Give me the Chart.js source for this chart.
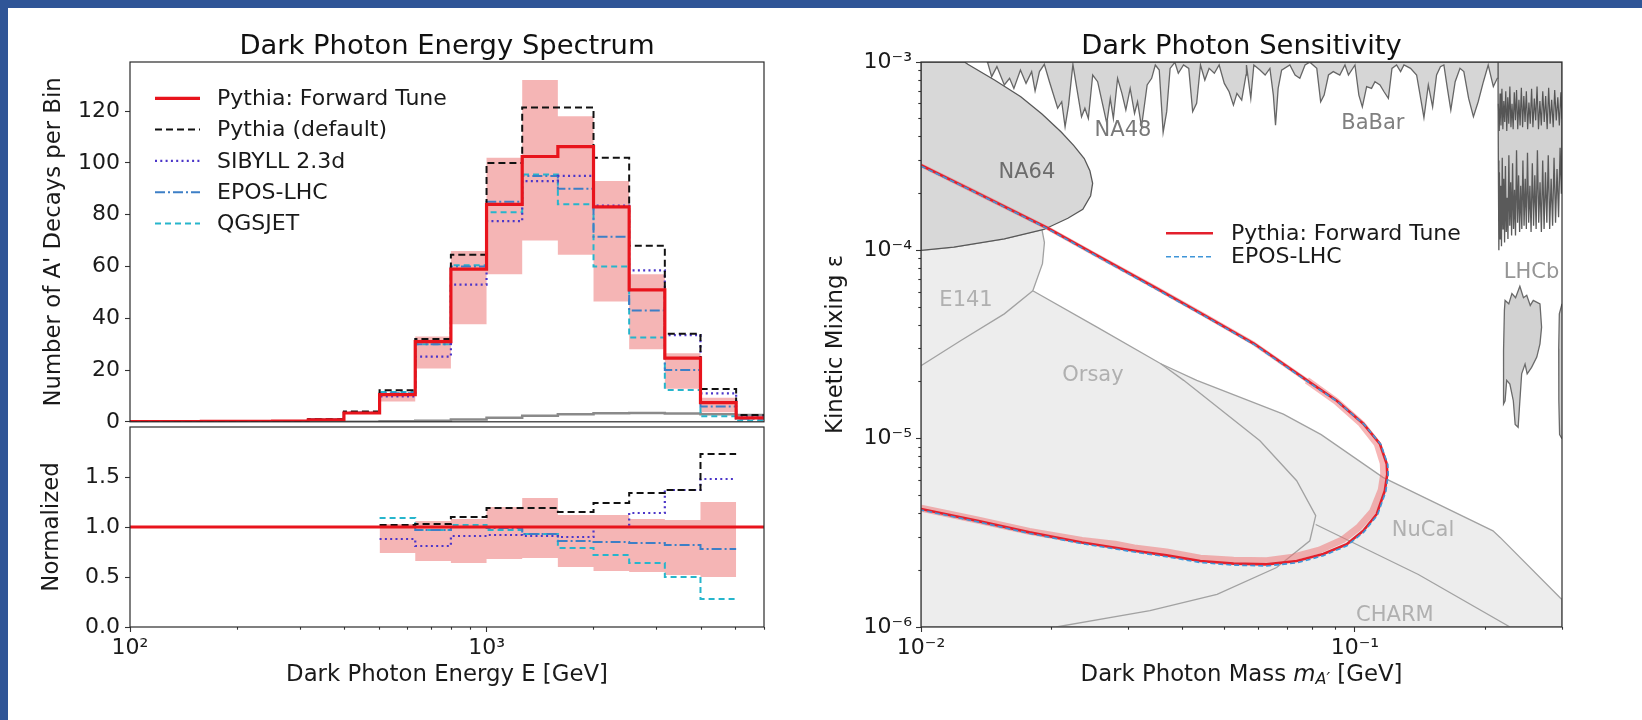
<!DOCTYPE html>
<html>
<head>
<meta charset="utf-8">
<script src="https://cdn.jsdelivr.net/npm/chart.js@4.4.1/dist/chart.umd.min.js"></script>
<style>
  html, body { margin: 0; padding: 0; background: #fff; }
  #page { position: relative; width: 1642px; height: 720px; overflow: hidden; background: #fff; }
  .edge { position: absolute; background: #2f5597; }
  canvas { position: absolute; }
</style>
</head>
<body>
<div id="page">
  <div class="edge" style="left:0;top:0;width:1642px;height:8px"></div>
  <div class="edge" style="left:0;top:0;width:8px;height:720px"></div>
  <canvas id="spec" style="left:0;top:0" width="800" height="440"></canvas>
  <canvas id="ratio" style="left:0;top:400px" width="800" height="320"></canvas>
  <canvas id="sens" style="left:820px;top:0" width="822" height="720"></canvas>
</div>
<script>
// ---------- energy spectrum: bins 0.1 decade wide, 10^2 .. 10^3.8 GeV ----------
const binEdges = [100, 125.9, 158.5, 199.5, 251.2, 316.2, 398.1, 501.2, 631.0, 794.3,
                  1000, 1258.9, 1584.9, 1995.3, 2511.9, 3162.3, 3981.1, 5011.9, 6309.6];

const fwdTune   = [0.1, 0.1, 0.15, 0.2, 0.3, 0.8, 3.4, 10.5, 31, 59, 84, 102.5, 106.3, 83, 51, 24.6, 7.4, 1.5];
const pyDefault = [0.1, 0.1, 0.15, 0.2, 0.35, 1.0, 4.0, 12.2, 32, 64.5, 100, 121.4, 121.4, 102, 68, 34, 12.7, 2.6];
const sibyll    = [0.1, 0.1, 0.1, 0.15, 0.3, 0.8, 3.5, 9.8, 25.2, 53, 77.5, 93, 95, 83.5, 58.5, 33.5, 11, 2];
const eposLhc   = [0.1, 0.1, 0.15, 0.2, 0.3, 0.9, 3.6, 11, 30, 60, 85, 95, 90, 71.5, 43, 20, 5.9, 1.2];
const qgsjet    = [0.1, 0.1, 0.15, 0.2, 0.3, 0.9, 3.5, 11.5, 30, 60.5, 81, 95.5, 84, 60, 32.6, 12.3, 2.1, 0.5];
const greyHist  = [0, 0, 0, 0, 0, 0, 0, 0.2, 0.4, 0.9, 1.6, 2.3, 2.9, 3.3, 3.4, 3.2, 2.9, 2.6];

// forward tune uncertainty band, bins 10^2.7 .. 10^3.7
const bandFirstBin = 7;
const bandUp = [10.9, 33, 66, 102, 132, 118, 93, 57, 26.5, 9.3];
const bandLo = [7.8, 20.6, 37.7, 57, 70, 64.5, 46.5, 28, 12.8, 3.7];

// ratio panel, same bins 10^2.7 .. 10^3.7
const ratioDefault = [1.02, 1.03, 1.10, 1.19, 1.19, 1.15, 1.24, 1.34, 1.37, 1.73];
const ratioSibyll  = [0.88, 0.81, 0.91, 0.92, 0.91, 0.90, 1.00, 1.14, 1.37, 1.48];
const ratioEpos    = [1.00, 0.97, 1.00, 0.99, 0.93, 0.86, 0.85, 0.84, 0.82, 0.78];
const ratioQgsjet  = [1.09, 0.97, 1.02, 0.97, 0.93, 0.79, 0.72, 0.64, 0.50, 0.28];
const ratioBandUp  = [1.03, 1.06, 1.08, 1.20, 1.29, 1.12, 1.12, 1.08, 1.07, 1.25];
const ratioBandLo  = [0.74, 0.66, 0.64, 0.68, 0.69, 0.60, 0.56, 0.55, 0.52, 0.50];

// ---------- sensitivity plot: [mass GeV, epsilon] ----------
const fwdReach = [[0.01,2.83e-4],[0.013,2.1e-4],[0.0196,1.31e-4],[0.025,9.6e-5],[0.0345,6.38e-5],[0.045,4.52e-5],
  [0.0586,3.19e-5],[0.0775,2.04e-5],[0.0908,1.59e-5],[0.1045,1.2e-5],[0.1142,9.37e-6],[0.1184,7.33e-6],
  [0.1187,6.48e-6],[0.1172,5.29e-6],[0.1122,3.97e-6],[0.1045,3.24e-6],[0.0957,2.75e-6],[0.0845,2.44e-6],
  [0.0734,2.24e-6],[0.0626,2.15e-6],[0.0525,2.17e-6],[0.044,2.24e-6],[0.0368,2.4e-6],[0.031,2.54e-6],
  [0.0235,2.81e-6],[0.01778,3.18e-6],[0.01349,3.66e-6],[0.01,4.23e-6]];
const fwdReachBand = [[0.01,2.83e-4],[0.013,2.1e-4],[0.0196,1.31e-4],[0.025,9.6e-5],[0.0345,6.38e-5],[0.045,4.52e-5],
  [0.0586,3.19e-5],[0.0775,2.04e-5],[0.0905,1.58e-5],[0.1035,1.2e-5],[0.1125,9.4e-6],[0.1162,7.4e-6],
  [0.1165,6.5e-6],[0.115,5.35e-6],[0.1098,4.1e-6],[0.102,3.38e-6],[0.0935,2.9e-6],[0.0828,2.56e-6],
  [0.072,2.35e-6],[0.0626,2.25e-6],[0.0525,2.26e-6],[0.044,2.32e-6],[0.0368,2.5e-6],[0.031,2.63e-6],
  [0.028,2.75e-6],[0.0235,2.88e-6],[0.01778,3.22e-6],[0.01349,3.7e-6],[0.01,4.27e-6]];
const eposReach = [[0.01,2.8e-4],[0.013,2.09e-4],[0.0196,1.3e-4],[0.025,9.5e-5],[0.0345,6.3e-5],[0.045,4.48e-5],
  [0.0586,3.16e-5],[0.0775,2.02e-5],[0.0912,1.57e-5],[0.105,1.19e-5],[0.1148,9.3e-6],[0.119,7.3e-6],
  [0.1193,6.45e-6],[0.1178,5.25e-6],[0.1127,3.93e-6],[0.1048,3.19e-6],[0.0958,2.7e-6],[0.0845,2.39e-6],
  [0.0734,2.19e-6],[0.0626,2.11e-6],[0.0525,2.13e-6],[0.044,2.2e-6],[0.0368,2.36e-6],[0.031,2.5e-6],
  [0.0235,2.77e-6],[0.01778,3.14e-6],[0.01349,3.62e-6],[0.01,4.18e-6]];

// beam dump exclusion (E141 + Orsay + NuCal + CHARM), outer edge
const dumpRegion = [[0.01,1e-6],[0.01,1.0e-4],[0.0119,1.04e-4],[0.01556,1.15e-4],[0.019,1.29e-4],[0.01925,1.1e-4],
  [0.01905,8.5e-5],[0.0181,6.1e-5],[0.0255,3.9e-5],[0.0357,2.5e-5],[0.0432,2.04e-5],[0.0684,1.35e-5],
  [0.0836,1.05e-5],[0.116,6.23e-6],[0.208,3.24e-6],[0.216,2.99e-6],[0.297,1.43e-6],[0.3,1.4e-6],[0.3,1e-6],[0.01,1e-6]];
const e141Edge  = [[0.01,2.44e-5],[0.01236,3.32e-5],[0.01556,4.6e-5],[0.0181,6.1e-5]];
const orsayEdge = [[0.0357,2.5e-5],[0.0403,2.04e-5],[0.0604,9.75e-6],[0.0734,5.98e-6],[0.0812,3.9e-6],
  [0.0787,2.87e-6],[0.066,2.07e-6],[0.0481,1.49e-6],[0.0337,1.22e-6],[0.0205,1e-6]];
const charmEdge = [[0.0812,3.5e-6],[0.14,1.9e-6],[0.2277,1e-6]];

const na64Region = [[0.01,1e-3],[0.01,1e-4],[0.0119,1.04e-4],[0.01556,1.15e-4],[0.0192,1.29e-4],[0.0218,1.48e-4],
  [0.0236,1.65e-4],[0.0246,1.95e-4],[0.02486,2.27e-4],[0.0245,2.65e-4],[0.02378,3.07e-4],[0.0225,3.6e-4],
  [0.02104,4.25e-4],[0.019,5.3e-4],[0.01698,6.54e-4],[0.0148,8.0e-4],[0.01282,9.72e-4],[0.0126,1e-3],[0.01,1e-3]];

const babarRegion = [[0.0142,1e-3],[0.01426,9.84e-4],[0.01455,8.36e-4],[0.01496,9.45e-4],[0.01556,7.55e-4],[0.016,8.19e-4],
  [0.01637,7.24e-4],[0.01695,9.06e-4],[0.01746,7.7e-4],[0.01799,8.89e-4],[0.01832,7.01e-4],[0.01875,8.89e-4],
  [0.01924,9.72e-4],[0.01977,7.86e-4],[0.02065,5.68e-4],[0.0211,6.15e-4],[0.02148,4.53e-4],[0.02188,5.9e-4],
  [0.02239,9.72e-4],[0.02286,7.24e-4],[0.02344,5.12e-4],[0.02386,5.68e-4],[0.0243,5.01e-4],[0.02487,8.53e-4],
  [0.02553,7.86e-4],[0.02624,5.9e-4],[0.0268,4.72e-4],[0.0273,6.41e-4],[0.02775,5.01e-4],[0.02838,8.19e-4],
  [0.02904,6.81e-4],[0.02965,5.56e-4],[0.03034,7.24e-4],[0.03105,5.33e-4],[0.03155,6.15e-4],[0.03222,4.53e-4],
  [0.0332,7.55e-4],[0.034,8.19e-4],[0.03467,9.64e-4],[0.0354,9.06e-4],[0.03614,4.23e-4],[0.03683,5.45e-4],
  [0.0375,9.25e-4],[0.03846,9.96e-4],[0.03917,8.71e-4],[0.04027,9.64e-4],[0.0414,9.25e-4],[0.04227,5.45e-4],
  [0.04317,6.03e-4],[0.04406,9.64e-4],[0.04509,8.02e-4],[0.04613,9.25e-4],[0.04742,8.71e-4],[0.04864,9.64e-4],
  [0.05,7.7e-4],[0.05129,6.95e-4],[0.05248,5.9e-4],[0.05346,6.81e-4],[0.05483,6.28e-4],[0.0561,8.53e-4],
  [0.05623,9.64e-4],[0.05754,6.41e-4],[0.05848,9.64e-4],[0.0604,9.06e-4],[0.06209,8.53e-4],[0.06368,9.25e-4],
  [0.06486,6.67e-4],[0.06561,4.62e-4],[0.06653,7.24e-4],[0.06776,9.06e-4],[0.07079,9.64e-4],[0.07278,8.53e-4],
  [0.07464,8.19e-4],[0.07674,9.64e-4],[0.07871,9.98e-4],[0.08166,9.25e-4],[0.08337,6.15e-4],[0.08492,6.67e-4],
  [0.0869,8.53e-4],[0.08913,8.89e-4],[0.09226,8.53e-4],[0.09484,9.64e-4],[0.09661,8.53e-4],[0.1,9.64e-4],
  [0.1021,6.67e-4],[0.104,5.78e-4],[0.1064,7.4e-4],[0.1092,7.24e-4],[0.1112,7.86e-4],[0.1142,7.55e-4],
  [0.1167,6.95e-4],[0.1194,6.41e-4],[0.1217,9.25e-4],[0.1247,9.64e-4],[0.1274,8.89e-4],[0.1297,9.64e-4],
  [0.1343,9.25e-4],[0.1387,8.53e-4],[0.1413,6.67e-4],[0.1442,5.06e-4],[0.1476,7.55e-4],[0.151,5.78e-4],
  [0.1542,8.53e-4],[0.1574,9.45e-4],[0.1603,9.64e-4],[0.1633,7.24e-4],[0.1663,5.56e-4],[0.1702,7.86e-4],
  [0.1746,9.25e-4],[0.1782,8.89e-4],[0.1828,6.41e-4],[0.1875,5.12e-4],[0.1923,6.15e-4],[0.1977,7.86e-4],
  [0.2028,9.64e-4],[0.2084,7.4e-4],[0.2128,8.19e-4],[0.2136,1e-3],[0.0142,1e-3]];

const lhcbUpper = [[0.2136,1e-3],[0.214,3.0e-4],[0.2146,1.0e-4],[0.2152,2.6e-4],[0.216,1.15e-4],[0.2168,2.2e-4],
  [0.2176,1.05e-4],[0.2185,3.1e-4],[0.2194,1.3e-4],[0.2203,2.4e-4],[0.2212,1.1e-4],[0.2222,2.8e-4],[0.2232,1.25e-4],
  [0.2242,1.9e-4],[0.2252,1.15e-4],[0.2263,3.2e-4],[0.2274,1.35e-4],[0.2285,2.3e-4],[0.2296,1.2e-4],[0.2308,2.9e-4],
  [0.232,1.3e-4],[0.2332,2.1e-4],[0.2344,1.2e-4],[0.2357,3.4e-4],[0.237,1.4e-4],[0.2383,2.5e-4],[0.2396,1.25e-4],
  [0.241,2.2e-4],[0.2424,1.3e-4],[0.2438,3.0e-4],[0.2453,1.35e-4],[0.2468,2.4e-4],[0.2483,1.3e-4],[0.2498,3.3e-4],
  [0.2514,1.4e-4],[0.253,2.2e-4],[0.2546,1.25e-4],[0.2563,2.9e-4],[0.258,1.35e-4],[0.2597,2.5e-4],[0.2615,1.3e-4],
  [0.2633,3.4e-4],[0.2651,1.4e-4],[0.267,2.3e-4],[0.2689,1.25e-4],[0.2708,3.0e-4],[0.2728,1.3e-4],[0.2748,2.6e-4],
  [0.2768,1.4e-4],[0.2789,3.2e-4],[0.281,1.3e-4],[0.2832,2.4e-4],[0.2854,1.35e-4],[0.2876,3.1e-4],[0.2899,1.4e-4],
  [0.2922,2.7e-4],[0.2946,1.5e-4],[0.297,3.5e-4],[0.299,2.0e-4],[0.3,4.0e-4],[0.3,1e-3],[0.2136,1e-3]];
const lhcbBand = [[0.214,6.0e-4],[0.215,4.3e-4],[0.216,6.8e-4],[0.217,4.6e-4],[0.2181,7.2e-4],[0.2192,4.4e-4],
  [0.2203,6.2e-4],[0.2214,4.8e-4],[0.2226,7.0e-4],[0.2238,4.3e-4],[0.225,6.5e-4],[0.2262,4.7e-4],[0.2275,7.4e-4],
  [0.2288,4.5e-4],[0.2301,6.0e-4],[0.2315,4.4e-4],[0.2329,6.9e-4],[0.2343,4.9e-4],[0.2357,7.1e-4],[0.2372,4.4e-4],
  [0.2387,6.3e-4],[0.2402,4.6e-4],[0.2418,7.3e-4],[0.2434,4.5e-4],[0.245,6.6e-4],[0.2466,4.8e-4],[0.2483,7.0e-4],
  [0.25,4.4e-4],[0.2517,6.1e-4],[0.2535,4.7e-4],[0.2553,7.2e-4],[0.2571,4.5e-4],[0.259,6.4e-4],[0.2609,4.9e-4],
  [0.2628,7.4e-4],[0.2648,4.4e-4],[0.2668,6.2e-4],[0.2688,4.6e-4],[0.2709,7.0e-4],[0.273,4.8e-4],[0.2751,6.6e-4],
  [0.2773,4.4e-4],[0.2795,7.3e-4],[0.2817,4.7e-4],[0.284,6.3e-4],[0.2863,4.5e-4],[0.2886,7.1e-4],[0.291,4.9e-4],
  [0.2934,6.5e-4],[0.2958,4.6e-4],[0.2982,6.9e-4],[0.3,5.0e-4]];
const lhcbIsland = [[0.221,4.8e-5],[0.2218,5.42e-5],[0.2262,5.2e-5],[0.23,5.9e-5],[0.2345,5.6e-5],[0.2399,6.44e-5],
  [0.2445,5.6e-5],[0.2488,5.77e-5],[0.2535,5.1e-5],[0.2576,5.42e-5],[0.2669,5.2e-5],[0.2692,3.91e-5],[0.2669,3.19e-5],
  [0.2624,2.71e-5],[0.2553,2.39e-5],[0.2494,2.21e-5],[0.2466,2.49e-5],[0.2422,2.21e-5],[0.2399,1.59e-5],
  [0.2377,1.15e-5],[0.234,1.19e-5],[0.2317,1.59e-5],[0.2275,1.95e-5],[0.2237,2.04e-5],[0.2218,1.59e-5],
  [0.22,1.53e-5],[0.22,2.94e-5],[0.221,4.8e-5]];
const lhcbSliver = [[0.3,5.2e-5],[0.2958,4.6e-5],[0.2948,3.0e-5],[0.295,1.6e-5],[0.2962,1.05e-5],[0.3,1e-5]];

const regionLabels = [
  {text: 'NA48', m: 0.0292, eps: 4.35e-4, color: '#787878'},
  {text: 'BaBar', m: 0.110, eps: 4.72e-4, color: '#808080'},
  {text: 'NA64', m: 0.01754, eps: 2.59e-4, color: '#6c6c6c'},
  {text: 'E141', m: 0.0127, eps: 5.42e-5, color: '#b0b0b0'},
  {text: 'Orsay', m: 0.0249, eps: 2.16e-5, color: '#b0b0b0'},
  {text: 'NuCal', m: 0.1435, eps: 3.24e-6, color: '#b0b0b0'},
  {text: 'CHARM', m: 0.1236, eps: 1.15e-6, color: '#b0b0b0'},
  {text: 'LHCb', m: 0.2553, eps: 7.6e-5, color: '#959595'}
];

// ---------- helpers ----------
const FAMILY = '"DejaVu Sans"';
Chart.defaults.font.family = FAMILY;
Chart.defaults.color = '#1a1a1a';

// value i holds from binEdges[first+i] to the next edge
function stepPoints(vals, firstBin) {
  const pts = vals.map((v, i) => ({x: binEdges[firstBin + i], y: v}));
  pts.push({x: binEdges[firstBin + vals.length], y: vals[vals.length - 1]});
  return pts;
}
const pairs = list => list.map(p => ({x: p[0], y: p[1]}));

const SUP = {'0':'⁰','1':'¹','2':'²','3':'³','4':'⁴','5':'⁵','6':'⁶','7':'⁷','8':'⁸','9':'⁹','-':'⁻'};
function isPow10(v) { const e = Math.log10(v); return Math.abs(e - Math.round(e)) < 1e-6; }
function mantissaInt(v) {
  const m = v / Math.pow(10, Math.floor(Math.log10(v) + 1e-9));
  return Math.abs(m - Math.round(m)) < 1e-6;
}
function powLabel(v) {
  if (!isPow10(v)) return '';
  return '10' + String(Math.round(Math.log10(v))).split('').map(c => SUP[c]).join('');
}
const keepNice = s => { s.ticks = s.ticks.filter(t => mantissaInt(t.value)); };
const minor = c => c.tick && !isPow10(c.tick.value);

function logGrid(side) {
  return {
    drawOnChartArea: false, tickLength: 5, tickColor: '#333', tickWidth: 1.1,
    tickBorderDash: c => minor(c) ? (side === 'left' ? [2.7, 2.3] : [2.7, 10]) : [],
    tickBorderDashOffset: c => (minor(c) && side === 'left') ? 2.7 : 0
  };
}
const linGrid = {drawOnChartArea: false, tickLength: 5, tickColor: '#333', tickWidth: 1.1};
const tickFont = {size: 22};
const labelFont = {size: 22.8};

const frame = {
  id: 'frame',
  afterDraw(c) {
    const a = c.chartArea, g = c.ctx;
    g.save(); g.strokeStyle = '#2a2a2a'; g.lineWidth = 1.2;
    g.strokeRect(a.left, a.top, a.right - a.left, a.bottom - a.top);
    g.restore();
  }
};
function panelTitle(text) {
  return {
    id: 'panelTitle',
    afterDraw(c) {
      const a = c.chartArea, g = c.ctx;
      g.save(); g.font = '27.4px ' + FAMILY; g.fillStyle = '#111';
      g.textAlign = 'center'; g.textBaseline = 'alphabetic';
      g.fillText(text, (a.left + a.right) / 2, a.top - 8.5);
      g.restore();
    }
  };
}
function lineLegend(indices, x0, y0, dy, len, gap, size) {
  return {
    id: 'lineLegend',
    afterDraw(c) {
      const a = c.chartArea, g = c.ctx;
      g.save(); g.font = size + 'px ' + FAMILY; g.textBaseline = 'middle';
      indices.forEach((di, k) => {
        const ds = c.data.datasets[di];
        const y = a.top + y0 + k * dy, x = a.left + x0;
        g.strokeStyle = ds.borderColor; g.lineWidth = ds.borderWidth;
        g.setLineDash(ds.borderDash || []);
        g.beginPath(); g.moveTo(x, y); g.lineTo(x + len, y); g.stroke();
        g.setLineDash([]); g.fillStyle = '#1a1a1a';
        g.fillText(ds.label, x + len + gap, y + 1);
      });
      g.restore();
    }
  };
}
const regionText = {
  id: 'regionText',
  afterDatasetsDraw(c) {
    const g = c.ctx, xs = c.scales.x, ys = c.scales.y;
    g.save(); g.font = '21px ' + FAMILY; g.textAlign = 'center'; g.textBaseline = 'middle';
    regionLabels.forEach(r => {
      g.fillStyle = r.color;
      g.fillText(r.text, xs.getPixelForValue(r.m), ys.getPixelForValue(r.eps));
    });
    g.restore();
  }
};
const massTitle = {
  id: 'massTitle',
  afterDraw(c) {
    const a = c.chartArea, g = c.ctx;
    const parts = [['Dark Photon Mass ', '22.8px ' + FAMILY, 0], ['m', 'italic 22.8px ' + FAMILY, 0],
                   ['A′', 'italic 16px ' + FAMILY, 5], [' [GeV]', '22.8px ' + FAMILY, 0]];
    g.save(); g.fillStyle = '#1a1a1a'; g.textBaseline = 'middle';
    let w = 0;
    parts.forEach(p => { g.font = p[1]; w += g.measureText(p[0]).width; });
    let x = (a.left + a.right) / 2 - w / 2;
    const y = a.bottom + 48;
    parts.forEach(p => { g.font = p[1]; g.fillText(p[0], x, y + p[2]); x += g.measureText(p[0]).width; });
    g.restore();
  }
};

const base = {
  responsive: false, animation: false, events: [],
  elements: {point: {radius: 0}, line: {tension: 0}},
  plugins: {legend: {display: false}, tooltip: {enabled: false}, title: {display: false}}
};
function line(extra) {
  return Object.assign({showLine: true, fill: false, borderWidth: 2, pointRadius: 0}, extra);
}
const hist = extra => line(Object.assign({stepped: 'before'}, extra));

// ---------- top-left: spectrum ----------
new Chart(document.getElementById('spec'), {
  type: 'scatter',
  data: {datasets: [
    hist({label: 'Pythia: Forward Tune', data: stepPoints(fwdTune, 0), borderColor: '#e8141c', borderWidth: 3.2, order: 1}),
    hist({label: 'Pythia (default)', data: stepPoints(pyDefault, 0), borderColor: '#111', borderDash: [7, 4], order: 2}),
    hist({label: 'SIBYLL 2.3d', data: stepPoints(sibyll, 0), borderColor: '#4b35c8', borderWidth: 2.2, borderDash: [2, 3.3], order: 3}),
    hist({label: 'EPOS-LHC', data: stepPoints(eposLhc, 0), borderColor: '#3d7fc6', borderDash: [10, 3, 2, 3], order: 4}),
    hist({label: 'QGSJET', data: stepPoints(qgsjet, 0), borderColor: '#26b5cc', borderDash: [6, 4], order: 5}),
    hist({label: 'other', data: stepPoints(greyHist, 0), borderColor: '#8a8a8a', borderWidth: 2.5, order: 6}),
    hist({label: 'band up', data: stepPoints(bandUp, bandFirstBin), borderWidth: 0, fill: '+1', backgroundColor: 'rgba(235,100,100,0.48)', order: 10}),
    hist({label: 'band lo', data: stepPoints(bandLo, bandFirstBin), borderWidth: 0, order: 11})
  ]},
  options: Object.assign({}, base, {
    layout: {padding: {top: 62, right: 36, bottom: 13, left: 0}},
    scales: {
      x: {type: 'logarithmic', min: 100, max: 6000, display: false},
      y: {min: 0, max: 139,
          ticks: {stepSize: 20, includeBounds: false, font: tickFont, padding: 5},
          grid: linGrid, border: {display: false},
          title: {display: true, text: "Number of A' Decays per Bin", font: labelFont, padding: {top: 40}},
          afterFit: s => { s.width = 130; }}
    }
  }),
  plugins: [frame, panelTitle('Dark Photon Energy Spectrum'), lineLegend([0, 1, 2, 3, 4], 25, 36.3, 31.3, 45, 17, 22)]
});

// ---------- bottom-left: normalized ratio ----------
new Chart(document.getElementById('ratio'), {
  type: 'scatter',
  data: {datasets: [
    line({label: 'fwd', data: [{x: 100, y: 1}, {x: 6000, y: 1}], borderColor: '#e8141c', borderWidth: 3.2, order: 1}),
    hist({label: 'default', data: stepPoints(ratioDefault, bandFirstBin), borderColor: '#111', borderDash: [7, 4], order: 2}),
    hist({label: 'sibyll', data: stepPoints(ratioSibyll, bandFirstBin), borderColor: '#4b35c8', borderWidth: 2.2, borderDash: [2, 3.3], order: 3}),
    hist({label: 'epos', data: stepPoints(ratioEpos, bandFirstBin), borderColor: '#3d7fc6', borderDash: [10, 3, 2, 3], order: 4}),
    hist({label: 'qgsjet', data: stepPoints(ratioQgsjet, bandFirstBin), borderColor: '#26b5cc', borderDash: [6, 4], order: 5}),
    hist({label: 'band up', data: stepPoints(ratioBandUp, bandFirstBin), borderWidth: 0, fill: '+1', backgroundColor: 'rgba(235,100,100,0.48)', order: 10}),
    hist({label: 'band lo', data: stepPoints(ratioBandLo, bandFirstBin), borderWidth: 0, order: 11})
  ]},
  options: Object.assign({}, base, {
    layout: {padding: {top: 27, right: 36, bottom: 0, left: 0}},
    scales: {
      x: {type: 'logarithmic', min: 100, max: 6000,
          ticks: {callback: powLabel, autoSkip: false, maxRotation: 0, font: tickFont, padding: 3},
          afterBuildTicks: keepNice, grid: logGrid('bottom'), border: {display: false},
          title: {display: true, text: 'Dark Photon Energy E [GeV]', font: labelFont, padding: {bottom: 31.3}},
          afterFit: s => { s.height = 93; }},
      y: {min: 0, max: 2,
          ticks: {stepSize: 0.5, font: tickFont, padding: 5, callback: v => v > 1.9 ? null : v.toFixed(1)},
          grid: linGrid, border: {display: false},
          title: {display: true, text: 'Normalized', font: labelFont, padding: {top: 38}},
          afterFit: s => { s.width = 130; }}
    }
  }),
  plugins: [frame]
});

// ---------- right: sensitivity ----------
const shade = (data, fillCol, edgeCol, order) =>
  line({data: pairs(data), fill: 'shape', backgroundColor: fillCol, borderColor: edgeCol, borderWidth: 1.3, order});

new Chart(document.getElementById('sens'), {
  type: 'scatter',
  data: {datasets: [
    line({label: 'EPOS-LHC', data: pairs(eposReach), borderColor: '#3f95d8', borderWidth: 1.6, borderDash: [5, 3], order: 1}),
    line({label: 'Pythia: Forward Tune', data: pairs(fwdReach), borderColor: '#e3202c', borderWidth: 2.6, order: 2}),
    line({label: 'band', data: pairs(fwdReachBand), borderColor: 'rgba(240,110,110,0.5)', borderWidth: 7,
          borderJoinStyle: 'round', segment: {borderWidth: s => s.p0DataIndex < 7 ? 4 : 7}, order: 3}),
    shade(dumpRegion, '#ededed', '#a2a2a2', 20),
    line({data: pairs(e141Edge), borderColor: '#a2a2a2', borderWidth: 1.3, order: 19}),
    line({data: pairs(orsayEdge), borderColor: '#a2a2a2', borderWidth: 1.3, order: 19}),
    line({data: pairs(charmEdge), borderColor: '#a2a2a2', borderWidth: 1.3, order: 19}),
    shade(na64Region, '#d8d8d8', '#585858', 15),
    shade(babarRegion, '#d6d6d6', '#666666', 15),
    shade(lhcbUpper, '#d2d2d2', '#5a5a5a', 15),
    line({data: pairs(lhcbBand), borderColor: '#555555', borderWidth: 1.2, order: 14}),
    shade(lhcbIsland, '#d2d2d2', '#6a6a6a', 15),
    shade(lhcbSliver, '#d2d2d2', '#6a6a6a', 15)
  ]},
  options: Object.assign({}, base, {
    layout: {padding: {top: 62, right: 80, bottom: 0, left: 0}},
    scales: {
      x: {type: 'logarithmic', min: 0.01, max: 0.3,
          ticks: {callback: powLabel, autoSkip: false, maxRotation: 0, font: tickFont, padding: 3},
          afterBuildTicks: keepNice, grid: logGrid('bottom'), border: {display: false},
          afterFit: s => { s.height = 93; }},
      y: {type: 'logarithmic', min: 1e-6, max: 1e-3,
          ticks: {callback: powLabel, autoSkip: false, font: tickFont, padding: 4},
          afterBuildTicks: keepNice, grid: logGrid('left'), border: {display: false},
          title: {display: true, text: 'Kinetic Mixing ε', font: labelFont, padding: {top: 2.3}},
          afterFit: s => { s.width = 101; }}
    }
  }),
  plugins: [regionText, frame, panelTitle('Dark Photon Sensitivity'), massTitle, lineLegend([1, 0], 245, 171.3, 23.4, 47, 18, 22)]
});
</script>
</body>
</html>
